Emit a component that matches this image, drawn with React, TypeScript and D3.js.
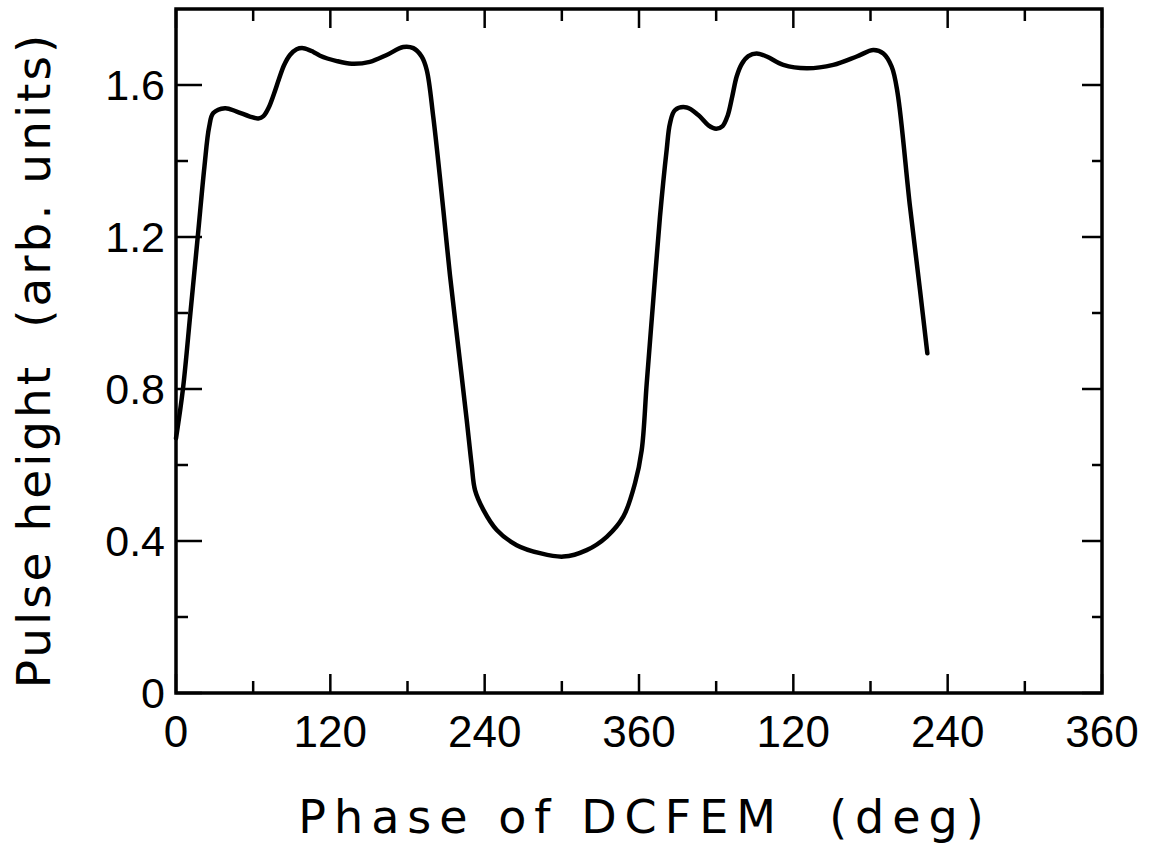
import React from "react";
import * as d3 from "d3";

// Phase (deg, continuous over two cycles) and pulse height (arb. units)
const phase = [
  0, 5.4, 11.2, 16.9, 22.1, 25.8, 29, 38.1, 47.2, 57.5, 64, 68, 72, 76, 80, 84, 88.6, 93.8, 99, 106.8,
  112, 125, 136.6, 150.8, 163.8, 176.7, 184.5, 191, 195, 200, 207.9, 213, 219.5, 226, 229.9, 232.5, 239,
  249.4, 264.9, 283, 301.2, 319.3, 334.9, 347.8, 356.9, 362.1, 366, 371.1, 376.3, 381.5, 384.1, 388, 397.1,
  406.1, 414, 420, 425, 429, 432.5, 436, 440, 445, 451.5, 459.3, 472.2, 490.4, 511.1, 529.3, 542.2,
  550, 556.5, 561, 570.7, 578.5, 584.2,
];
const pulseHeight = [
  0.67, 0.8, 1.0, 1.2, 1.385, 1.49, 1.526, 1.539, 1.53, 1.517, 1.512, 1.518, 1.54, 1.575, 1.615, 1.652, 1.679, 1.694, 1.697, 1.687,
  1.677, 1.663, 1.656, 1.661, 1.679, 1.7, 1.697, 1.675, 1.639, 1.517, 1.27, 1.1, 0.91, 0.72, 0.6, 0.534, 0.482,
  0.429, 0.389, 0.368, 0.359, 0.376, 0.411, 0.464, 0.552, 0.639, 0.815, 1.034, 1.253, 1.429, 1.499, 1.534, 1.541,
  1.521, 1.494, 1.485, 1.492, 1.52, 1.57, 1.623, 1.656, 1.676, 1.683, 1.675, 1.653, 1.644, 1.653, 1.675, 1.692,
  1.683, 1.648, 1.58, 1.28, 1.06, 0.894,
];

const xTickValues = [0, 60, 120, 180, 240, 300, 360, 420, 480, 540, 600, 660, 720];
const xLabelValues = [0, 120, 240, 360, 480, 600, 720];
const xLabels = ["0", "120", "240", "360", "120", "240", "360"];
const yTickValues = [0, 0.2, 0.4, 0.6, 0.8, 1.0, 1.2, 1.4, 1.6];
const yLabelValues = [0, 0.4, 0.8, 1.2, 1.6];
const yLabels = ["0", "0.4", "0.8", "1.2", "1.6"];

const xTitle = "Phase of DCFEM  (deg)";
const yTitle = "Pulse height  (arb. units)";

export default function App() {
  const W = 1151, H = 847;
  const left = 176, right = 1102, top = 9, bottom = 693;
  const x = d3.scaleLinear().domain([0, 720]).range([left, right]);
  const y = d3.scaleLinear().domain([0, 1.8]).range([bottom, top]);
  const pts: [number, number][] = phase.map((p, i) => [p, pulseHeight[i]]);
  const line = d3.line<[number, number]>()
    .x(d => x(d[0]))
    .y(d => y(d[1]))
    .curve(d3.curveCatmullRom.alpha(0.5));
  const font = "'DejaVu Sans', sans-serif";
  const tickFont = "'Liberation Sans', sans-serif";
  const isMajorX = (v: number) => v % 120 === 0;
  const isMajorY = (v: number) => Math.abs(Math.round(v * 10) % 4) === 0;

  return (
    <svg width={W} height={H} style={{ position: "absolute", left: 0, top: 0, background: "#fff" }}>
      <rect x={0} y={0} width={W} height={H} fill="#fff" />
      {xTickValues.map(v => {
        const len = isMajorX(v) ? 19 : 12;
        return (
          <g key={"xt" + v}>
            <line x1={x(v)} x2={x(v)} y1={bottom} y2={bottom - len} stroke="#000" strokeWidth={2.5} />
            <line x1={x(v)} x2={x(v)} y1={top} y2={top + len} stroke="#000" strokeWidth={2.5} />
          </g>
        );
      })}
      {yTickValues.map(v => {
        const major = isMajorY(v);
        return (
          <g key={"yt" + v}>
            <line x1={left} x2={left + (major ? 26 : 12)} y1={y(v)} y2={y(v)} stroke="#000" strokeWidth={2.5} />
            <line x1={right} x2={right - (major ? 20 : 10)} y1={y(v)} y2={y(v)} stroke="#000" strokeWidth={2.5} />
          </g>
        );
      })}
      <rect x={left} y={top} width={right - left} height={bottom - top} fill="none" stroke="#000" strokeWidth={3.5} />
      <path d={line(pts) || ""} fill="none" stroke="#000" strokeWidth={4.5} strokeLinejoin="round" strokeLinecap="round" />
      {xLabelValues.map((v, i) => (
        <text key={"xl" + i} x={x(v)} y={747} textAnchor="middle" fontFamily={tickFont} fontSize={44} fill="#000">
          {xLabels[i]}
        </text>
      ))}
      {yLabelValues.map((v, i) => (
        <text key={"yl" + i} x={165} y={y(v)} dy="0.36em" textAnchor="end" fontFamily={tickFont} fontSize={43} fill="#000">
          {yLabels[i]}
        </text>
      ))}
      <text x={645} y={833} textAnchor="middle" fontFamily={font} fontSize={46} fill="#000"
        letterSpacing={8} style={{ whiteSpace: "pre" }}>
        {xTitle}
      </text>
      <text transform={`translate(50, 360) rotate(-90)`} textAnchor="middle" fontFamily={font} fontSize={47} fill="#000"
        letterSpacing={3} style={{ whiteSpace: "pre" }}>
        {yTitle}
      </text>
    </svg>
  );
}
